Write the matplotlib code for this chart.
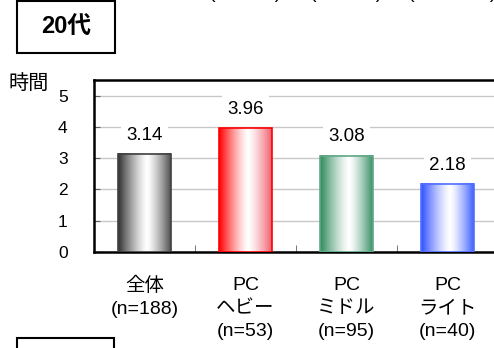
import matplotlib.pyplot as plt
import matplotlib.patches as mpatches
import numpy as np
from matplotlib.colors import to_rgb

plt.rcParams['font.family'] = ['Liberation Sans', 'Noto Sans CJK JP', 'DejaVu Sans']

categories = ['全体\n(n=188)', 'PC\nヘビー\n(n=53)', 'PC\nミドル\n(n=95)', 'PC\nライト\n(n=40)']
values = [3.14, 3.96, 3.08, 2.18]
labels = ['3.14', '3.96', '3.08', '2.18']
left_colors = ['#303030', '#ff0000', '#2e8a5a', '#3050ff']
right_colors = ['#505050', '#f06070', '#3a9068', '#4060ff']
edge_colors = ['#404040', '#ff0000', '#60a888', '#5070ff']
yticks = [0, 1, 2, 3, 4, 5]

W, H = 494, 348
fig = plt.figure(figsize=(W / 100, H / 100), dpi=100)
ax = fig.add_axes([94 / W, 96 / H, 404 / W, 172 / H])

x = np.arange(len(values))
bw = 0.52
bars = ax.bar(x, values, width=bw, color='none', edgecolor='none', zorder=3)

# cylinder-like horizontal gradient per bar
t = np.linspace(0, 1, 200)
for b, lc, rc, ec in zip(bars, left_colors, right_colors, edge_colors):
    lc = np.array(to_rgb(lc))
    rc = np.array(to_rgb(rc))
    img = np.zeros((1, len(t), 3))
    for i, tt in enumerate(t):
        if tt < 0.55:
            w = (1 - tt / 0.55) ** 1.3
            c = lc * w + np.ones(3) * (1 - w)
        else:
            w = ((tt - 0.55) / 0.45) ** 1.3
            c = rc * w + np.ones(3) * (1 - w)
        img[0, i] = c
    x0, h = b.get_x(), b.get_height()
    ax.imshow(img, extent=(x0, x0 + b.get_width(), 0, h), aspect='auto', zorder=3)
    ax.add_patch(mpatches.Rectangle((x0, 0), b.get_width(), h, fill=False,
                                    edgecolor=ec, linewidth=1.2, zorder=4))

for xi, v, lab in zip(x, values, labels):
    ax.text(xi, v + 0.6, lab, ha='center', va='center', fontsize=13.5, zorder=5,
            bbox=dict(facecolor='white', edgecolor='none', pad=4))

ax.set_xlim(-0.5, 3.5)
ax.set_ylim(0, 5.5)
ax.set_yticks(yticks)
ax.set_yticklabels([str(v) for v in yticks], fontsize=12.5)
ax.set_xticks(x)
ax.set_xticklabels(categories, fontsize=14, va='top')
for lbl in ax.get_xticklabels():
    lbl.set_linespacing(1.45)
ax.set_xticks(x[:-1] + 0.5, minor=True)
ax.tick_params(axis='x', which='major', length=0, pad=18)
ax.tick_params(axis='x', which='minor', direction='in', length=5, color='#606060')
ax.tick_params(axis='y', direction='in', length=4, color='#606060', pad=19)
ax.grid(axis='y', color='#c8c8c8', linewidth=1, zorder=0)
ax.set_axisbelow(True)
for s in ['left', 'bottom', 'top']:
    ax.spines[s].set_linewidth(1.8)
ax.spines['right'].set_visible(False)

fig.text(8 / W, 1 - 83 / H, '時間', fontsize=14.5, va='center', ha='left')

# header box
fig.patches.append(mpatches.Rectangle((17 / W, 1 - 53 / H), 98 / W, 52 / H, fill=False,
                                      edgecolor='black', linewidth=1.5, transform=fig.transFigure))
fig.text(66 / W, 1 - 27 / H, '20代', fontsize=17, fontweight='bold', ha='center', va='center')
# next box, cut off at the bottom
fig.patches.append(mpatches.Rectangle((17 / W, -20 / H), 97 / W, 30 / H, fill=False,
                                      edgecolor='black', linewidth=1.5, transform=fig.transFigure))
# cut-off labels from the chart above: only the bottoms of the brackets show
for cx, txt in [(245, '(           )'), (346, '(           )'), (452, '(              )')]:
    fig.text(cx / W, 1 + 2 / H, txt, fontsize=14, ha='center', va='baseline')

fig.savefig('out.png', dpi=100)
